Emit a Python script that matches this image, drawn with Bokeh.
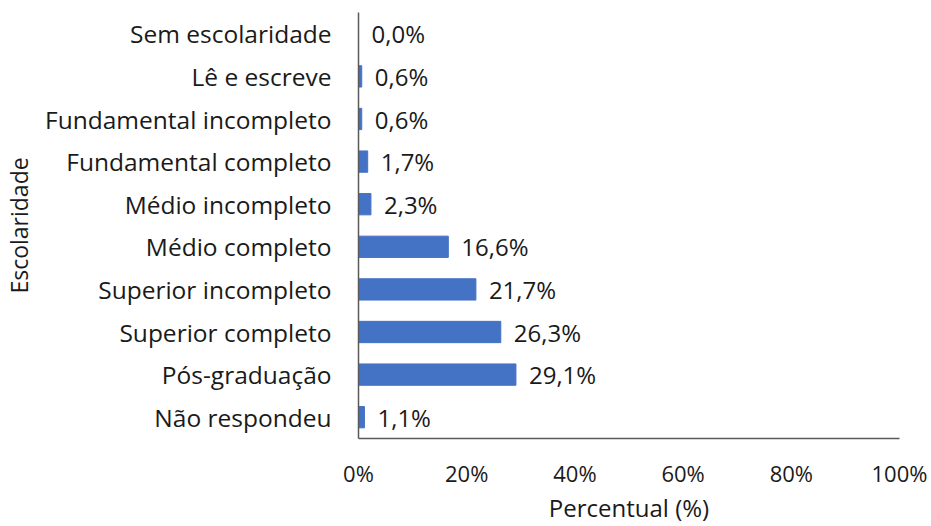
from bokeh.plotting import figure
from bokeh.models import ColumnDataSource, Range1d, FactorRange, FixedTicker, CustomJSTickFormatter
from bokeh.core.properties import value
from bokeh.embed import file_html
from bokeh.resources import INLINE

categories = ["Sem escolaridade", "Lê e escreve", "Fundamental incompleto", "Fundamental completo",
              "Médio incompleto", "Médio completo", "Superior incompleto", "Superior completo",
              "Pós-graduação", "Não respondeu"]
values = [0.0, 0.6, 0.6, 1.7, 2.3, 16.6, 21.7, 26.3, 29.1, 1.1]
labels = ["0,0%", "0,6%", "0,6%", "1,7%", "2,3%", "16,6%", "21,7%", "26,3%", "29,1%", "1,1%"]
x_ticks = [0, 20, 40, 60, 80, 100]
x_title = "Percentual (%)"
y_title = "Escolaridade"

FONT = "Open Sans"
TEXT = "#1a1a1a"

src = ColumnDataSource(dict(cat=categories, val=values, lab=labels))

p = figure(width=931, height=526, y_range=FactorRange(*reversed(categories)),
           x_range=Range1d(0, 100), output_backend="svg", toolbar_location=None,
           min_border_left=357, min_border_right=32, min_border_top=12, min_border_bottom=86)

p.hbar(y="cat", right="val", left=0, height=0.5, source=src, color="#4472C4")
p.text(x="val", y="cat", text="lab", source=src, x_offset=13, text_baseline="middle",
       text_font=value(FONT), text_font_size="24px", text_color=TEXT)

p.xaxis.ticker = FixedTicker(ticks=x_ticks)
p.xaxis.formatter = CustomJSTickFormatter(code="return tick + '%';")
p.xaxis.axis_label = x_title
p.yaxis.axis_label = y_title

for ax in (p.xaxis[0], p.yaxis[0]):
    ax.major_tick_line_color = None
    ax.minor_tick_line_color = None
    ax.major_tick_out = 0
    ax.major_tick_in = 0
    ax.minor_tick_out = 0
    ax.minor_tick_in = 0
    ax.axis_line_color = "#5a5a5a"
    ax.axis_line_width = 1.5
    ax.major_label_text_font = FONT
    ax.major_label_text_color = TEXT
    ax.axis_label_text_font = FONT
    ax.axis_label_text_color = TEXT
    ax.axis_label_text_font_style = "normal"

p.yaxis.major_label_text_font_size = "24.5px"
p.yaxis.axis_label_text_font_size = "23px"
p.xaxis.major_label_text_font_size = "22px"
p.xaxis.axis_label_text_font_size = "24px"

p.xaxis.major_label_standoff = 19
p.xaxis.axis_label_standoff = 0
p.yaxis.major_label_standoff = 27
p.yaxis.axis_label_standoff = 7

p.xgrid.grid_line_color = None
p.ygrid.grid_line_color = None
p.outline_line_color = None

open("out.html", "w").write(file_html(p, INLINE))
